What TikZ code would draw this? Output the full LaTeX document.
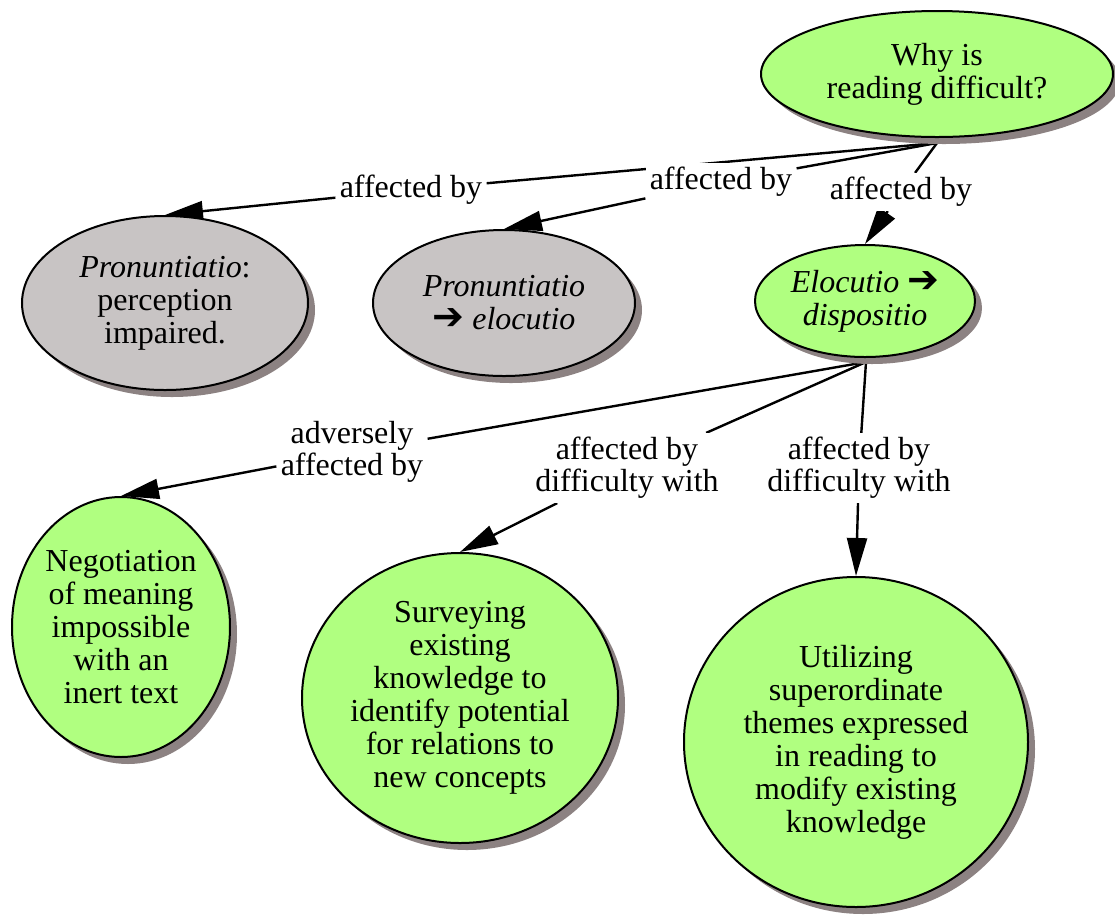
\documentclass[tikz,border=0pt]{standalone}
\usepackage{fontspec}
\setmainfont{Liberation Serif}
\newfontfamily\arrowfont{DejaVu Sans}
\newcommand{\bigarrow}{{\arrowfont\fontsize{19}{16}\selectfont ➔}}
\usepackage{xcolor}
\definecolor{MapGreen}{HTML}{B0FF80}
\definecolor{MapGray}{HTML}{C8C4C4}
\definecolor{MapShadow}{HTML}{8C8282}
\usetikzlibrary{arrows.meta,shapes.geometric,shadows,backgrounds}

\begin{document}
\begin{tikzpicture}[
  x=0.5pt,y=-0.5pt,
  concept/.style={ellipse,draw=black,line width=1pt,inner sep=0pt,align=center,font=\fontsize{16}{16.5}\selectfont,drop shadow={shadow xshift=3.5pt,shadow yshift=-3.5pt,fill=MapShadow,opacity=1}},
  linkword/.style={fill=white,inner sep=2pt,align=center,font=\fontsize{16}{16}\selectfont},
  link/.style={line width=1.2pt,draw=black},
  linkto/.style={link,-{Triangle[length=19pt,width=10pt]}}
]
\useasboundingbox (0,0) rectangle (1115,923);
\node[concept,fill=MapGreen,minimum width=176pt,minimum height=63pt] (why) at (937,74) {Why is\\reading difficult?};
\node[concept,fill=MapGray,minimum width=143pt,minimum height=87pt] (pron1) at (165,303) {\textit{Pronuntiatio}:\\perception\\impaired.};
\node[concept,fill=MapGray,minimum width=131pt,minimum height=73pt] (pron2) at (504,303) {\textit{Pronuntiatio}\\\bigarrow\ \textit{elocutio}};
\node[concept,fill=MapGreen,minimum width=110pt,minimum height=56pt] (eloc) at (865,301) {\textit{Elocutio} \bigarrow\\\textit{dispositio}};
\node[concept,fill=MapGreen,minimum width=109pt,minimum height=130pt,inner xsep=-3pt] (negot) at (121,627) {Negotiation\\of meaning\\impossible\\with an\\inert text};
\node[concept,fill=MapGreen,minimum width=158pt,minimum height=145pt] (survey) at (460,698) {Surveying\\existing\\knowledge to\\identify potential\\for relations to\\new concepts};
\node[concept,fill=MapGreen,minimum width=172pt,minimum height=165pt] (utilize) at (856,742) {Utilizing\\superordinate\\themes expressed\\in reading to\\modify existing\\knowledge};

\coordinate (whyfoot) at (937,143);
\coordinate (elocfoot) at (866,362);

\node[linkword] (aff1) at (411,190) {affected by};
\node[linkword] (aff2) at (721,182) {affected by};
\node[linkword] (aff3) at (901,192) {affected by};
\node[linkword] (adverse) at (352,452) {adversely\\affected by};
\node[linkword] (diff1) at (627,468) {affected by\\difficulty with};
\node[linkword] (diff2) at (859,468) {affected by\\difficulty with};

\begin{scope}[on background layer]
\draw[link] (whyfoot) -- (aff1);
\draw[linkto] (aff1) -- (pron1.north);
\draw[link] (whyfoot) -- (aff2);
\draw[linkto] (aff2) -- (pron2.north);
\draw[link] (whyfoot) -- (aff3);
\draw[linkto] (aff3) -- (eloc.north);
\draw[link] (elocfoot) -- (adverse);
\draw[linkto] (adverse) -- (negot.north);
\draw[link] (elocfoot) -- (diff1);
\draw[linkto] (diff1) -- (survey.north);
\draw[link] (elocfoot) -- (diff2);
\draw[linkto] (diff2) -- (utilize.north);
\end{scope}
\end{tikzpicture}
\end{document}
